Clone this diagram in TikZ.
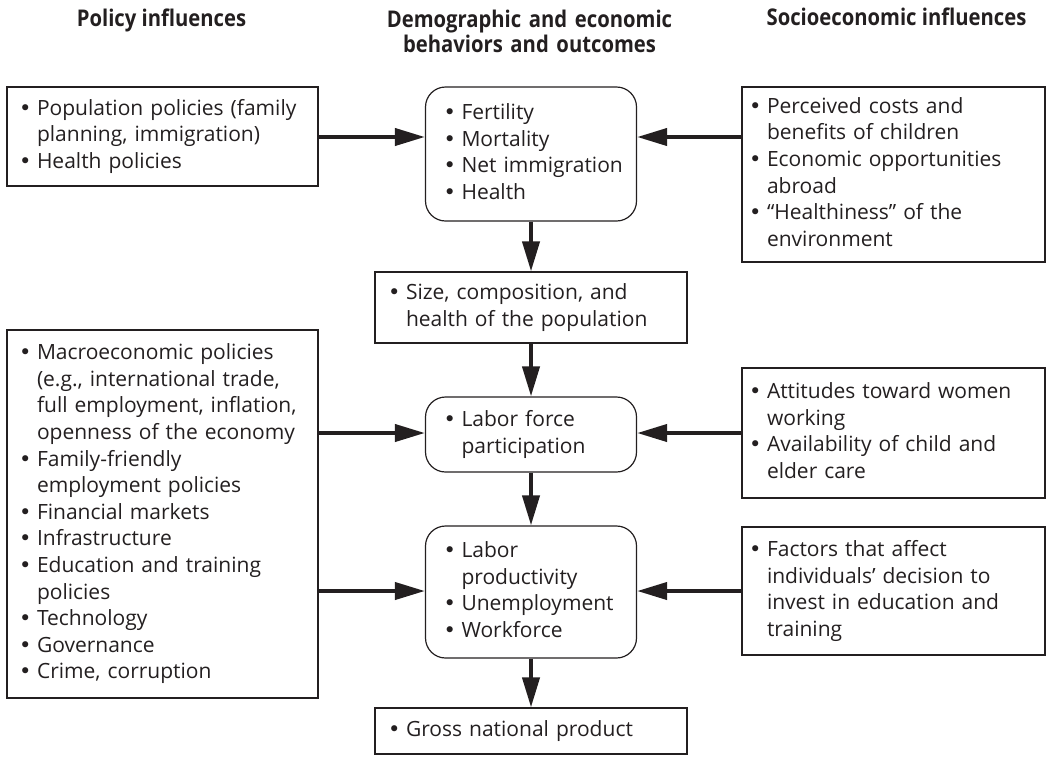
\documentclass[tikz,border=0pt]{standalone}
\usepackage{fontspec}
\setmainfont{Open Sans}
\newfontfamily\headfont{Open Sans}[FakeStretch=0.88]
\newfontfamily\bulletfont{DejaVu Sans}
\usetikzlibrary{arrows.meta}
\definecolor{ink}{HTML}{231F20}
\newcommand\bl{\makebox[8pt][l]{\hspace{2.2pt}\makebox[0pt][c]{\bulletfont •}}}
\newcommand\blist[1]{\noindent\begin{tabular}{@{}l@{}l@{}}#1\end{tabular}}
\begin{document}
\begin{tikzpicture}[x=0.5pt,y=-0.5pt,
  box/.style={draw=ink, line width=0.6pt, text=ink, font=\fontsize{10.5}{13.3}\selectfont, align=left, inner ysep=0pt},
  rbox/.style={box, rounded corners=10pt},
  head/.style={font=\headfont\bfseries\fontsize{11.5}{12.5}\selectfont, text=ink, align=center, inner sep=0pt},
  arr/.style={-{Triangle[length=15pt,width=8.5pt]}, line width=2pt, draw=ink}]
\useasboundingbox (0,0) rectangle (1052,756);
% headings
\node[head, anchor=base] (h1) at (161.5,26) {Policy influences};
\node[head, anchor=base, text width=200pt] (h2) at (529.5,27) {Demographic and economic\\behaviors and outcomes};
\node[head, anchor=base] (h3) at (896.5,25) {Socioeconomic influences};
% left column
\node[box, minimum width=155.5pt, minimum height=49.5pt, text width=141.5pt, inner xsep=7pt] (pp) at (162.5,136.5)
 {\blist{\bl & Population policies (family\\ & planning, immigration)\\ \bl & Health policies}};
\node[box, minimum width=155.5pt, minimum height=184pt, text width=141.5pt, inner xsep=7pt] (macro) at (162.5,514)
 {\blist{\bl & Macroeconomic policies\\ & (e.g., international trade,\\ & full employment, inflation,\\ & openness of the economy\\
 \bl & Family-friendly\\ & employment policies\\ \bl & Financial markets\\ \bl & Infrastructure\\
 \bl & Education and training\\ & policies\\ \bl & Technology\\ \bl & Governance\\ \bl & Crime, corruption}};
% centre column
\node[rbox, minimum width=105.5pt, minimum height=67pt, text width=85.5pt, inner xsep=10pt] (demo) at (531,154)
 {\blist{\bl & Fertility\\ \bl & Mortality\\ \bl & Net immigration\\ \bl & Health}};
\node[box, minimum width=156pt, minimum height=35.5pt, text width=141pt, inner xsep=7.5pt] (size) at (531,307.5)
 {\blist{\bl & Size, composition, and\\ & health of the population}};
\node[rbox, minimum width=105.5pt, minimum height=37.5pt, text width=85.5pt, inner xsep=10pt] (lfp) at (531,434.5)
 {\blist{\bl & Labor force\\ & participation}};
\node[rbox, minimum width=105.5pt, minimum height=66pt, text width=85.5pt, inner xsep=10pt] (prod) at (531,592)
 {\blist{\bl & Labor\\ & productivity\\ \bl & Unemployment\\ \bl & Workforce}};
\node[box, minimum width=156pt, minimum height=23pt, text width=141pt, inner xsep=7.5pt] (gnp) at (531,731)
 {\blist{\bl & Gross national product}};
% right column
\node[box, minimum width=151.5pt, minimum height=87.5pt, text width=142.5pt, inner xsep=4.5pt] (soc1) at (893.5,174.5)
 {\blist{\bl & Perceived costs and\\ & benefits of children\\ \bl & Economic opportunities\\ & abroad\\ \bl & “Healthiness” of the\\ & environment}};
\node[box, minimum width=151.5pt, minimum height=65pt, text width=142.5pt, inner xsep=4.5pt] (soc2) at (893.5,433)
 {\blist{\bl & Attitudes toward women\\ & working\\ \bl & Availability of child and\\ & elder care}};
\node[box, minimum width=151.5pt, minimum height=64pt, text width=142.5pt, inner xsep=4.5pt] (soc3) at (893.5,591)
 {\blist{\bl & Factors that affect\\ & individuals’ decision to\\ & invest in education and\\ & training}};
% arrow rows
\coordinate (r1) at (0,137);
\coordinate (r2) at (0,433);
\coordinate (r3) at (0,591);
\draw[arr] (pp.east |- r1) -- (demo.west |- r1);
\draw[arr] (soc1.west |- r1) -- (demo.east |- r1);
\draw[arr] (macro.east |- r2) -- (lfp.west |- r2);
\draw[arr] (soc2.west |- r2) -- (lfp.east |- r2);
\draw[arr] (macro.east |- r3) -- (prod.west |- r3);
\draw[arr] (soc3.west |- r3) -- (prod.east |- r3);
\draw[arr] (demo.south) -- (size.north);
\draw[arr] (size.south) -- (lfp.north);
\draw[arr] (lfp.south) -- (prod.north);
\draw[arr] (prod.south) -- (gnp.north);
\end{tikzpicture}
\end{document}
